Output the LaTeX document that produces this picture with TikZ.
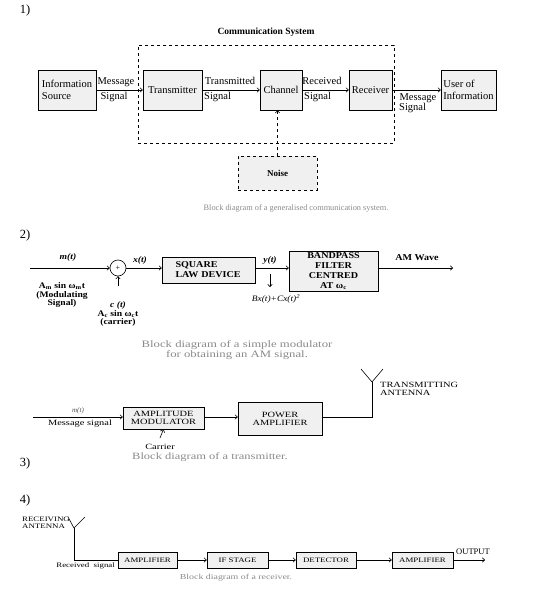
\documentclass[tikz,border=0pt]{standalone}
\usepackage{fontspec}
\setmainfont{Liberation Serif}
\newfontfamily\wide[FakeStretch=1.3]{Liberation Serif}
\newfontfamily\semiwide[FakeStretch=1.12]{Liberation Serif}
\usetikzlibrary{arrows.meta}
\definecolor{boxgray}{HTML}{F0F0F0}
\definecolor{capgray}{HTML}{8A8A8A}
\tikzset{
  blk/.style={draw, fill=boxgray, line width=0.6pt, inner sep=1pt},
  lbl/.style={inner sep=0pt},
  capt/.style={inner sep=0pt, text=capgray},
  conn/.style={line width=0.6pt},
  arr/.style={conn, -{To[length=3pt,width=5pt]}},
  f1/.style={font=\fontsize{10.5}{12}\selectfont},
  f2/.style={font=\semiwide\bfseries\fontsize{9}{10}\selectfont},
  f2s/.style={font=\semiwide\bfseries\fontsize{8.6}{8.8}\selectfont},
  f3/.style={font=\wide\fontsize{8}{8}\selectfont},
  f4/.style={font=\wide\fontsize{6.8}{7}\selectfont},
  num/.style={inner sep=0pt, font=\fontsize{12.5}{14}\selectfont},
}
\begin{document}
\begin{tikzpicture}[x=1pt,y=-1pt]
\useasboundingbox (0,0) rectangle (556,589);

% ---------------- 1 ----------------
\node[num] (n1) at (25,10) {1)};
\node[lbl, font=\bfseries\fontsize{9.5}{11}\selectfont] (cst) at (266,32) {Communication System};
\node[draw, dashed, line width=0.6pt, minimum width=256pt, minimum height=98pt, inner sep=0pt] (sys) at (266,94) {};
\node[blk, f1, minimum width=58pt, minimum height=40pt, align=left] (info) at (67,90) {Information\\Source};
\node[blk, f1, minimum width=59pt, minimum height=40pt] (tx) at (172.5,90) {Transmitter};
\node[blk, f1, minimum width=42pt, minimum height=40pt] (ch) at (281,90) {Channel};
\node[blk, f1, minimum width=43pt, minimum height=40pt] (rx) at (370.5,90) {Receiver};
\node[blk, f1, minimum width=55pt, minimum height=40pt, align=left] (user) at (468.5,90) {User of\\Information};
\node[blk, dashed, font=\bfseries\fontsize{9}{10}\selectfont, minimum width=79pt, minimum height=34pt] (noise) at (277.5,173) {Noise};
\draw[arr] (info) -- (tx);
\draw[arr] (tx) -- (ch);
\draw[arr] (ch) -- (rx);
\draw[arr] (rx) -- (user);
\draw[arr, dashed] (noise.north) -- (noise.north |- ch.south);
\node[lbl, f1] (l1a) at (116,82) {Message};
\node[lbl, f1] (l1b) at (114,97) {Signal};
\node[lbl, f1] (l2a) at (230,81) {Transmitted};
\node[lbl, f1, anchor=west] (l2b) at (204,97) {Signal};
\node[lbl, f1] (l3a) at (322,81) {Received};
\node[lbl, f1, anchor=west] (l3b) at (304,97) {Signal};
\node[lbl, f1] (l4a) at (418,98) {Message};
\node[lbl, f1, anchor=west] (l4b) at (399,108) {Signal};
\node[capt, font=\fontsize{8.3}{9}\selectfont] (c1) at (296,208) {Block diagram of a generalised communication system.};

% ---------------- 2 ----------------
\node[num] (n2) at (25,235) {2)};
\coordinate (min) at (30,268);
\node[draw, circle, line width=0.6pt, minimum size=16pt, inner sep=0pt, font=\fontsize{8}{8}\selectfont] (sum) at (118,268) {+};
\draw[arr] (min) -- (sum.west);
\node[lbl, f2s] (mt) at (68,257) {\itshape m(t)};
\node[lbl, f2s, align=center] (mod) at (62,295) {A\textsubscript{m} sin ω\textsubscript{m}t\\(Modulating\\Signal)};
\coordinate (cin) at (118,286);
\draw[arr] (cin) -- (sum.south);
\node[lbl, f2s, align=center] (carr) at (118,314) {\itshape c (t)\\A\textsubscript{c} sin ω\textsubscript{c}t\\(carrier)};
\node[blk, f2, minimum width=93pt, minimum height=26pt, align=left, text width=66pt] (sq) at (208.5,270) {SQUARE\\LAW DEVICE};
\node[blk, f2, minimum width=89pt, minimum height=40pt, align=center, inner sep=0pt] (bp) at (333.5,271) {BANDPASS\\FILTER\\CENTRED\\AT ω\textsubscript{c}};
\draw[arr] (sum.east) -- (sum.east -| sq.west);
\draw[arr] (sq.east |- sum) -- (bp.west |- sum);
\coordinate (amout) at (453,268);
\draw[arr] (bp.east |- sum) -- (amout);
\node[lbl, f2s] (xt) at (140,260) {\itshape x(t)};
\node[lbl, f2s] (yt) at (270,260) {\itshape y(t)};
\coordinate (ya) at (270,274);
\coordinate (yb) at (270,287);
\draw[arr] (ya) -- (yb);
\node[lbl, font=\semiwide\itshape\fontsize{8.4}{9}\selectfont] (bx) at (276,299) {Bx(t)+Cx(t)\textsuperscript{2}};
\node[lbl, f2] (amw) at (417,258) {AM Wave};
\node[capt, font=\wide\fontsize{9.8}{9.5}\selectfont, align=center] (c2) at (237,350) {Block diagram of a simple modulator\\for obtaining an AM signal.};

% ---------------- 3 ----------------
\coordinate (mt3) at (33,417);
\node[blk, f3, minimum width=81pt, minimum height=22pt, align=center] (am) at (163.5,418) {AMPLITUDE\\MODULATOR};
\node[blk, f3, minimum width=84pt, minimum height=33pt, align=center] (pa) at (280,418.5) {POWER\\AMPLIFIER};
\draw[arr] (mt3) -- (mt3 -| am.west);
\draw[arr] (am.east |- mt3) -- (pa.west |- mt3);
\node[lbl, font=\itshape\fontsize{7}{8}\selectfont, text=black!70] (mt3l) at (78,411) {m(t)};
\node[lbl, f3] (msg3) at (80,424) {Message signal};
\coordinate (car3) at (160,438);
\draw[arr] (car3) -- (am.south);
\node[lbl, f3] (carl) at (160,447) {Carrier};
\coordinate (tbend) at (372,417);
\coordinate (tbase) at (372,382);
\coordinate (tl) at (361,369);
\coordinate (tr) at (383,369);
\draw[conn] (pa.east |- mt3) -- (tbend) -- (tbase);
\draw[conn] (tl) -- (tbase) -- (tr);
\node[lbl, f3, anchor=west, align=left] (tant) at (380,389) {TRANSMITTING\\ANTENNA};
\node[num] (n3) at (25,463) {3)};
\node[capt, font=\wide\fontsize{9.6}{9}\selectfont] (c3) at (210,457) {Block diagram of a transmitter.};

% ---------------- 4 ----------------
\node[num] (n4) at (25,500) {4)};
\coordinate (rl) at (68,517);
\coordinate (rr) at (85,517);
\coordinate (rbase) at (74,528);
\draw[conn] (rl) -- (rbase) -- (rr);
\node[lbl, f4, anchor=west, align=left] (rant) at (22,523) {RECEIVING\\ANTENNA};
\node[blk, f4, minimum width=59pt, minimum height=16pt] (a1) at (147.5,560) {AMPLIFIER};
\node[blk, f4, minimum width=61pt, minimum height=16pt] (ifs) at (237.5,560) {IF STAGE};
\node[blk, f4, minimum width=60pt, minimum height=16pt] (det) at (326,560) {DETECTOR};
\node[blk, f4, minimum width=61pt, minimum height=16pt] (a2) at (422.5,560) {AMPLIFIER};
\draw[conn] (rbase) -- (rbase |- a1.west) -- (a1.west);
\draw[arr] (a1) -- (ifs);
\draw[arr] (ifs) -- (det);
\draw[arr] (det) -- (a2);
\coordinate (outp) at (485,560);
\draw[arr] (a2) -- (outp);
\node[lbl, font=\fontsize{8.5}{9}\selectfont] (outl) at (473,552) {OUTPUT};
\node[lbl, f4, anchor=east] (rsig) at (115,566) {Received\ \ signal};
\node[capt, font=\wide\fontsize{7.6}{9}\selectfont] (c4) at (236,578) {Block diagram of a receiver.};
\end{tikzpicture}
\end{document}
